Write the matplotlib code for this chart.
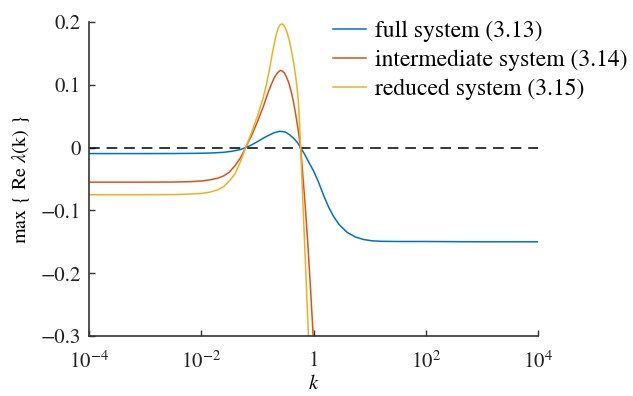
import numpy as np
import matplotlib
matplotlib.use("Agg")
import matplotlib.pyplot as plt

plt.rcParams['font.family'] = ['STIXGeneral', 'DejaVu Serif']
plt.rcParams['mathtext.fontset'] = 'stix'

# values (k given as log10 k)
full_logk = [-4, -3, -2.5, -2.2, -2.0, -1.8, -1.6, -1.45, -1.3, -1.21, -1.1, -1.0,
             -0.9, -0.8, -0.7, -0.6, -0.5, -0.42, -0.35, -0.29, -0.23, -0.15, -0.08,
             0.0, 0.08, 0.18, 0.27, 0.36, 0.46, 0.6, 0.75, 0.9, 1.05, 1.2, 1.5, 2, 3, 4]
full_val = [-0.0095, -0.0095, -0.0094, -0.0092, -0.009, -0.0085, -0.0075, -0.0058,
            -0.003, 0.0, 0.0045, 0.0095, 0.0148, 0.0195, 0.0238, 0.026, 0.0248, 0.02,
            0.0145, 0.0085, 0.0, -0.012, -0.024, -0.037, -0.053, -0.076, -0.095,
            -0.11, -0.123, -0.135, -0.1425, -0.1465, -0.1485, -0.1492, -0.1495,
            -0.1495, -0.15, -0.15]

inter_logk = [-4, -3, -2.5, -2.2, -2.0, -1.85, -1.7, -1.6, -1.5, -1.4, -1.3, -1.21,
              -1.1, -1.0, -0.9, -0.8, -0.75, -0.7, -0.66, -0.62, -0.59, -0.56, -0.52,
              -0.48, -0.44, -0.4, -0.36, -0.32, -0.28, -0.23, -0.15, -0.1, -0.05,
              0.0, 0.05]
inter_val = [-0.055, -0.055, -0.0548, -0.0542, -0.0532, -0.0515, -0.0485, -0.045,
             -0.039, -0.029, -0.016, 0.0, 0.02, 0.041, 0.064, 0.09, 0.101, 0.111,
             0.117, 0.121, 0.123, 0.122, 0.119, 0.112, 0.103, 0.09, 0.074, 0.054,
             0.032, 0.0, -0.09, -0.155, -0.23, -0.31, -0.4]

red_logk = [-4, -3, -2.5, -2.2, -2.0, -1.85, -1.7, -1.6, -1.5, -1.4, -1.3, -1.21,
            -1.1, -1.0, -0.9, -0.84, -0.78, -0.72, -0.67, -0.63, -0.6, -0.57, -0.54,
            -0.51, -0.47, -0.43, -0.39, -0.35, -0.31, -0.27, -0.25, -0.23, -0.16,
            -0.09, -0.03]
red_val = [-0.075, -0.075, -0.0748, -0.074, -0.073, -0.071, -0.067, -0.062, -0.053,
           -0.042, -0.022, 0.0, 0.025, 0.05, 0.078, 0.1, 0.127, 0.157, 0.178, 0.19,
           0.195, 0.197, 0.196, 0.192, 0.183, 0.17, 0.153, 0.133, 0.108, 0.075, 0.04,
           0.0, -0.15, -0.3, -0.43]

labels = ['full system (3.13)', 'intermediate system (3.14)', 'reduced system (3.15)']
colors = ['#0072BD', '#D95319', '#EDB120']

fig = plt.figure(figsize=(6.33, 3.96), dpi=100)
ax = fig.add_axes([0.1406, 0.1515, 0.7094, 0.7929])

ax.plot([1e-4, 1e4], [0, 0], '--', color='black', lw=1.1, dashes=(7, 4.5))
ax.plot(10 ** np.array(full_logk), full_val, color=colors[0], lw=1.1, label=labels[0])
ax.plot(10 ** np.array(inter_logk), inter_val, color=colors[1], lw=1.1, label=labels[1])
ax.plot(10 ** np.array(red_logk), red_val, color=colors[2], lw=1.1, label=labels[2])

ax.set_xscale('log')
ax.set_xlim(1e-4, 1e4)
ax.set_ylim(-0.3, 0.2)
ax.set_xticks([1e-4, 1e-2, 1, 1e2, 1e4])
ax.set_xticklabels(['$10^{-4}$', '$10^{-2}$', '1', '$10^{2}$', '$10^{4}$'])
ax.xaxis.set_minor_locator(matplotlib.ticker.NullLocator())
ax.set_yticks([-0.3, -0.2, -0.1, 0, 0.1, 0.2])
ax.set_yticklabels(['\u22120.3', '\u22120.2', '\u22120.1', '0', '0.1', '0.2'])

for s in ['top', 'right']:
    ax.spines[s].set_visible(False)
for s in ['left', 'bottom']:
    ax.spines[s].set_color('#333333')
    ax.spines[s].set_linewidth(1.2)
ax.tick_params(direction='in', length=4, width=1.0, color='#333333',
               labelsize=15, labelcolor='#222222')
ax.tick_params(axis='x', pad=11)
ax.tick_params(axis='y', pad=6)

ax.set_xlabel('$k$', fontsize=15, labelpad=1)
ax.set_ylabel(r'max { Re $\lambda$(k) }', fontsize=14.5, labelpad=6)

ax.legend(loc='upper left', bbox_to_anchor=(0.526, 0.948), bbox_transform=fig.transFigure,
          frameon=False, fontsize=17, handlelength=1.4, handletextpad=0.4,
          labelspacing=0.32, borderpad=0, borderaxespad=0)

fig.savefig('out.png', dpi=100)
